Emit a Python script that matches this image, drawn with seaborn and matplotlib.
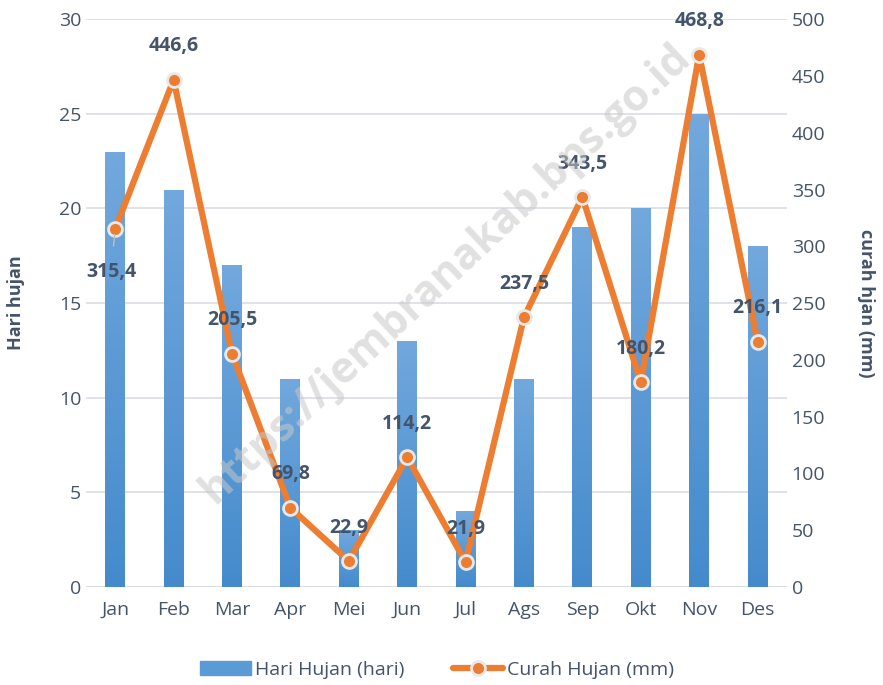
import numpy as np
import pandas as pd
import seaborn as sns
import matplotlib.pyplot as plt
from matplotlib.colors import LinearSegmentedColormap

months = ["Jan", "Feb", "Mar", "Apr", "Mei", "Jun", "Jul", "Ags", "Sep", "Okt", "Nov", "Des"]
hari_hujan = [23, 21, 17, 11, 3, 13, 4, 11, 19, 20, 25, 18]
curah_hujan = [315.4, 446.6, 205.5, 69.8, 22.9, 114.2, 21.9, 237.5, 343.5, 180.2, 468.8, 216.1]

df = pd.DataFrame({"Bulan": months, "Hari": hari_hujan, "Curah": curah_hujan})

sns.set_style("white")
plt.rcParams['font.family'] = ['Open Sans', 'DejaVu Sans']
txt = "#44546A"
blue = "#5B9BD5"
orange = "#ED7D31"

fig = plt.figure(figsize=(8.83, 6.85), dpi=100)
ax = fig.add_axes([0.0974, 0.143, 0.7936, 0.829])

sns.barplot(data=df, x="Bulan", y="Hari", color=blue, width=0.34,
            saturation=1, linewidth=0, ax=ax, label="Hari Hujan (hari)")

# gradient fill on the bars (lighter on top, like the original)
grad = LinearSegmentedColormap.from_list("g", ["#458BCC", "#72A8DD"])
for p in ax.patches:
    x0, y0 = p.get_x(), p.get_y()
    w, h = p.get_width(), p.get_height()
    im = ax.imshow(np.linspace(0, 1, 100).reshape(-1, 1), cmap=grad,
                   extent=[x0, x0 + w, y0, y0 + h], origin="lower",
                   aspect="auto", zorder=p.get_zorder())
    im.set_clip_path(p)
    p.set_alpha(0)

ax.set_ylim(0, 30)
ax.set_yticks(range(0, 31, 5))
ax.set_xlim(-0.5, 11.5)
ax.yaxis.grid(True, color="#D9DDE3", lw=1.2)
ax.set_axisbelow(True)
for s in ax.spines.values():
    s.set_visible(False)
ax.axhline(0, color="#D9DDE3", lw=1.2, zorder=0)
ax.set_xlabel("")
ax.set_ylabel("Hari hujan", fontsize=13, fontweight="bold", color=txt, labelpad=24)
ax.tick_params(axis="both", length=0, labelsize=14, labelcolor=txt)
ax.tick_params(axis="x", pad=10)

ax2 = ax.twinx()
sns.pointplot(data=df, x="Bulan", y="Curah", color=orange, ax=ax2,
              markers="o", linewidth=4.5, markersize=10,
              markeredgecolor="#E8E8E8", markeredgewidth=2,
              label="Curah Hujan (mm)")
ax2.set_ylim(0, 500)
ax2.set_yticks(range(0, 501, 50))
ax2.set_xlim(-0.5, 11.5)
for s in ax2.spines.values():
    s.set_visible(False)
ax2.set_xlabel("")
ax2.set_ylabel("curah hjan (mm)", fontsize=13, fontweight="bold", color=txt,
               rotation=270, labelpad=36)
ax2.tick_params(axis="both", length=0, labelsize=14, labelcolor=txt)

for i, v in enumerate(curah_hujan):
    lab = f"{v:.1f}".replace(".", ",")
    if i == 0:
        ax2.annotate(lab, (i, v), xytext=(-3, -31), textcoords="offset points",
                     ha="center", va="center", fontsize=14, fontweight="bold",
                     color=txt,
                     arrowprops=dict(arrowstyle="-", color="#BFBFBF", lw=1,
                                     shrinkA=9, shrinkB=4))
    else:
        ax2.annotate(lab, (i, v), xytext=(0, 24), textcoords="offset points",
                     ha="center", va="center", fontsize=14, fontweight="bold",
                     color=txt)

# watermark
fig.text(0.505, 0.6, "https://jembranakab.bps.go.id", rotation=43,
         fontsize=31, fontweight="bold", color="#C8C8C8", alpha=0.55,
         ha="center", va="center", zorder=10)

h1, l1 = ax.get_legend_handles_labels()
h2, l2 = ax2.get_legend_handles_labels()
if ax.get_legend():
    ax.get_legend().remove()
if ax2.get_legend():
    ax2.get_legend().remove()
h1 = [plt.Rectangle((0, 0), 1, 1, color=blue)]
fig.legend(h1 + h2, l1 + l2, loc="center", bbox_to_anchor=(0.495, 0.022),
           ncol=2, frameon=False, fontsize=14, labelcolor=txt,
           handlelength=2.6, handletextpad=0.2, columnspacing=2.5)

plt.savefig("out.png", dpi=100)
